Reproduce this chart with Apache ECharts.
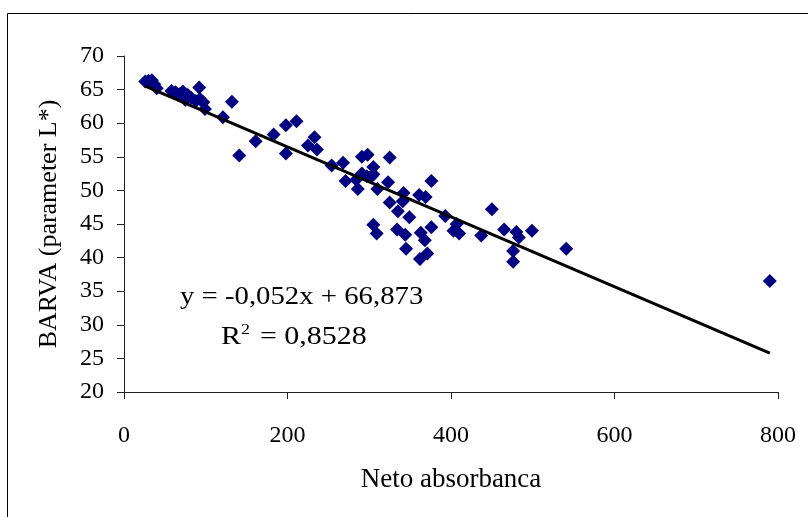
<!DOCTYPE html>
<html>
<head>
<meta charset="utf-8">
<script src="https://cdn.jsdelivr.net/npm/echarts@6/dist/echarts.min.js"></script>
<style>
  html, body { margin: 0; padding: 0; background: #fff; }
  #chart { width: 808px; height: 517px; }
</style>
</head>
<body>
<div id="chart"></div>
<script>
// Net absorbance vs colour lightness (L*) samples
const absorbance = [
  26, 30, 34, 37, 40,
  58, 63, 68, 72, 75, 78, 82, 88, 92, 93, 97, 99,
  121, 132, 141, 161, 183, 198, 198, 211, 225, 233, 236,
  254, 268, 271, 284, 286, 291, 291, 297, 298, 303, 305, 305, 310, 305, 309,
  325, 323, 325, 335, 334, 342, 341, 344, 345, 349,
  361, 369, 363, 368, 362, 371, 376, 376,
  393, 403, 407, 410, 437, 450, 465, 476, 476, 480, 483, 499, 541, 790
];
const lightness = [
  66.2, 66.3, 66.4, 65.8, 65.2,
  64.8, 64.6, 64.3, 64.7, 63.5, 64.2, 63.8, 63.3, 65.3, 63.6, 63.1, 62.1,
  60.9, 63.2, 55.2, 57.3, 58.3, 59.7, 55.5, 60.3, 56.7, 57.9, 56.1,
  53.7, 54.1, 51.4, 51.6, 50.2, 52.5, 55.0, 52.1, 55.3, 52.1, 53.5, 52.4, 50.2, 44.9, 43.6,
  54.9, 51.2, 48.2, 46.9, 44.2, 49.6, 48.4, 43.4, 41.3, 46.0,
  49.3, 49.0, 43.7, 42.6, 39.8, 40.6, 51.4, 44.5,
  46.2, 44.0, 45.0, 43.6, 43.3, 47.2, 44.2, 41.0, 39.4, 43.8, 43.0, 44.0, 41.3, 36.5
];

// Linear trend: y = slope * x + intercept
const slope = -0.052;
const intercept = 66.873;
const rSquared = '0,8528';

const xTicks = [0, 200, 400, 600, 800];
const yTicks = [20, 25, 30, 35, 40, 45, 50, 55, 60, 65, 70];

const points = absorbance.map((x, i) => [x, lightness[i]]);
const xMin = Math.min(...absorbance);
const xMax = Math.max(...absorbance);
const trend = [
  [xMin, slope * xMin + intercept],
  [xMax, slope * xMax + intercept]
];

const FONT = 'Liberation Serif';
const fmtNum = v => String(v).replace('.', ',');

const chart = echarts.init(document.getElementById('chart'), null, { renderer: 'canvas' });
chart.setOption({
  animation: false,
  backgroundColor: '#ffffff',
  grid: { left: 124, right: 30, top: 56, bottom: 125, containLabel: false },
  xAxis: {
    type: 'value',
    min: xTicks[0], max: xTicks[xTicks.length - 1], interval: 200,
    name: 'Neto absorbanca',
    nameLocation: 'middle',
    nameGap: 74,
    nameTextStyle: { fontFamily: FONT, fontSize: 27, color: '#000' },
    axisLine: { onZero: false, lineStyle: { color: '#222', width: 1 } },
    axisTick: { show: true, inside: false, length: 7, lineStyle: { color: '#222' } },
    axisLabel: { fontFamily: FONT, fontSize: 24, color: '#000', margin: 32 },
    splitLine: { show: false }
  },
  yAxis: {
    type: 'value',
    min: yTicks[0], max: yTicks[yTicks.length - 1], interval: 5,
    name: 'BARVA (parameter L*)',
    nameLocation: 'middle',
    nameGap: 62,
    nameTextStyle: { fontFamily: FONT, fontSize: 26, color: '#000' },
    axisLine: { show: true, onZero: false, lineStyle: { color: '#222', width: 1 } },
    axisTick: { show: true, inside: false, length: 7, lineStyle: { color: '#222' } },
    axisLabel: { fontFamily: FONT, fontSize: 24, color: '#000', margin: 20 },
    splitLine: { show: false }
  },
  series: [
    {
      type: 'scatter',
      data: points,
      symbol: 'diamond',
      symbolSize: 14,
      itemStyle: { color: '#000080', opacity: 1 },
      z: 2
    },
    {
      type: 'line',
      data: trend,
      symbol: 'none',
      lineStyle: { color: '#000', width: 3 },
      z: 3
    }
  ],
  graphic: [
    {
      type: 'rect',
      shape: { x: 7.5, y: 13.5, width: 830, height: 540 },
      style: { fill: 'none', stroke: '#000', lineWidth: 1 },
      silent: true
    },
    {
      type: 'text',
      x: 180, y: 285,
      scaleX: 1.15,
      style: {
        text: 'y = ' + fmtNum(slope) + 'x + ' + fmtNum(intercept),
        font: '25px "' + FONT + '"',
        fill: '#000'
      }
    },
    {
      type: 'text',
      x: 221, y: 323,
      scaleX: 1.2,
      style: {
        text: 'R{sup|2} = ' + rSquared,
        font: '25px "' + FONT + '"',
        fill: '#000',
        rich: {
          sup: { fontFamily: FONT, fontSize: 15, verticalAlign: 'top', padding: [0, 2, 14, 0] }
        }
      }
    }
  ]
});
</script>
</body>
</html>
